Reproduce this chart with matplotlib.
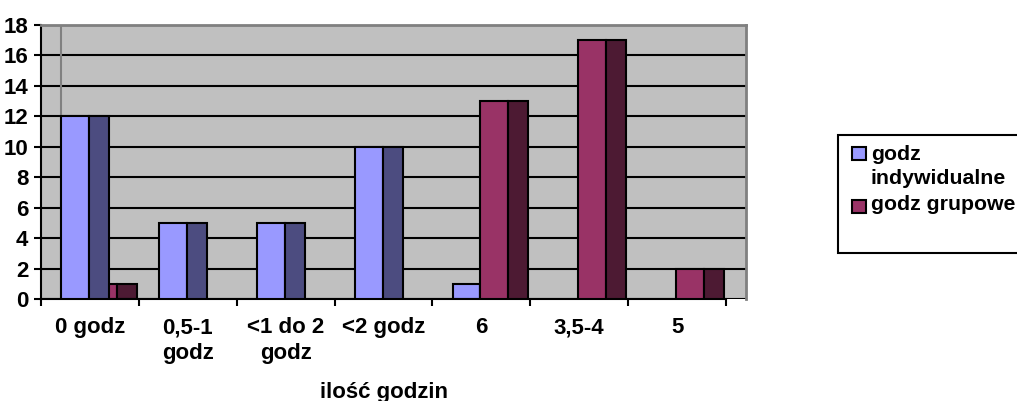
import numpy as np
import matplotlib.pyplot as plt
from matplotlib.patches import Rectangle

plt.rcParams['font.family'] = ['Liberation Sans', 'DejaVu Sans']
plt.rcParams['font.weight'] = 'bold'

# data
categories = ['0 godz', '0,5-1\ngodz', '<1 do 2\ngodz', '<2 godz', '6', '3,5-4', '5']
indywidualne = [12, 5, 5, 10, 1, 0, 0]
grupowe = [1, 0, 0, 0, 13, 17, 2]
series_names = ['godz\nindywidualne', 'godz grupowe']
y_ticks = [0, 2, 4, 6, 8, 10, 12, 14, 16, 18]

front_colors = ['#9999FF', '#993366']
side_colors = ['#4C4C80', '#4D1A33']

W, H = 1017, 401
fs = 16
fig = plt.figure(figsize=(W / 100, H / 100), dpi=100)
ax = fig.add_axes([41 / W, (H - 299) / H, 704.6 / W, 274 / H])
ax.set_facecolor('#C0C0C0')

front_w = 0.285
depth = 0.205
offsets = [depth, depth + front_w]

# fake 3d columns: front face plus darker side face, taller bar drawn last
for i in range(len(categories)):
    vals = [indywidualne[i], grupowe[i]]
    order = np.argsort(vals, kind='stable')
    for k, s in enumerate(order):
        v = vals[s]
        if v == 0:
            continue
        x0 = i + offsets[s]
        z = 2 + k
        ax.bar(x0, v, width=front_w, align='edge', color=front_colors[s],
               edgecolor='black', linewidth=1.5, zorder=z)
        ax.bar(x0 + front_w, v, width=depth, align='edge', color=side_colors[s],
               edgecolor='black', linewidth=1.5, zorder=z)

# back wall edge
ax.axvline(depth, color='#808080', linewidth=1.5, zorder=0.8)

ax.set_xlim(0, 7.2)
ax.set_ylim(0, 18)
ax.set_yticks(y_ticks)
ax.set_yticklabels([str(t) for t in y_ticks])
ax.set_axisbelow(True)
ax.yaxis.grid(True, color='black', linewidth=1.5)

ax.set_xticks(np.arange(0, 8))
ax.set_xticklabels([])
ax.set_xticks(np.arange(len(categories)) + 0.5, minor=True)
ax.set_xticklabels(categories, minor=True, fontsize=fs, fontweight='bold',
                   linespacing=1.3)
ax.tick_params(axis='x', which='minor', length=0, pad=13)
ax.tick_params(axis='x', which='major', length=5, width=1.5, color='black', direction='out')
ax.tick_params(axis='y', length=5, width=1.5, color='black', pad=4, labelsize=fs)

for spine in ['top', 'right']:
    ax.spines[spine].set_color('#808080')
    ax.spines[spine].set_linewidth(2)
ax.spines['left'].set_color('black')
ax.spines['left'].set_linewidth(1.5)
ax.spines['bottom'].set_color('black')
ax.spines['bottom'].set_linewidth(1.5)
ax.spines['bottom'].set_bounds(0, 7)

fig.text(384 / W, (H - 398) / H, 'ilość godzin', ha='center', va='baseline',
         fontsize=fs, fontweight='bold')

# legend box, running off the right edge as in the reference
fig.patches.append(Rectangle((838 / W, (H - 253) / H), 200 / W, 118 / H,
                             transform=fig.transFigure, facecolor='white',
                             edgecolor='black', linewidth=1.5, clip_on=False))
marker_tops = [147, 200]
text_base = [184, 210]  # baseline of the last line of each label
for s in range(2):
    fig.patches.append(Rectangle((852 / W, (H - marker_tops[s] - 13) / H), 14 / W, 13 / H,
                                 transform=fig.transFigure, facecolor=front_colors[s],
                                 edgecolor='black', linewidth=1.5))
    fig.text(871 / W, (H - text_base[s]) / H, series_names[s], ha='left', va='baseline',
             fontsize=15.3, fontweight='bold', linespacing=1.3)

fig.savefig('out.png', dpi=100)
